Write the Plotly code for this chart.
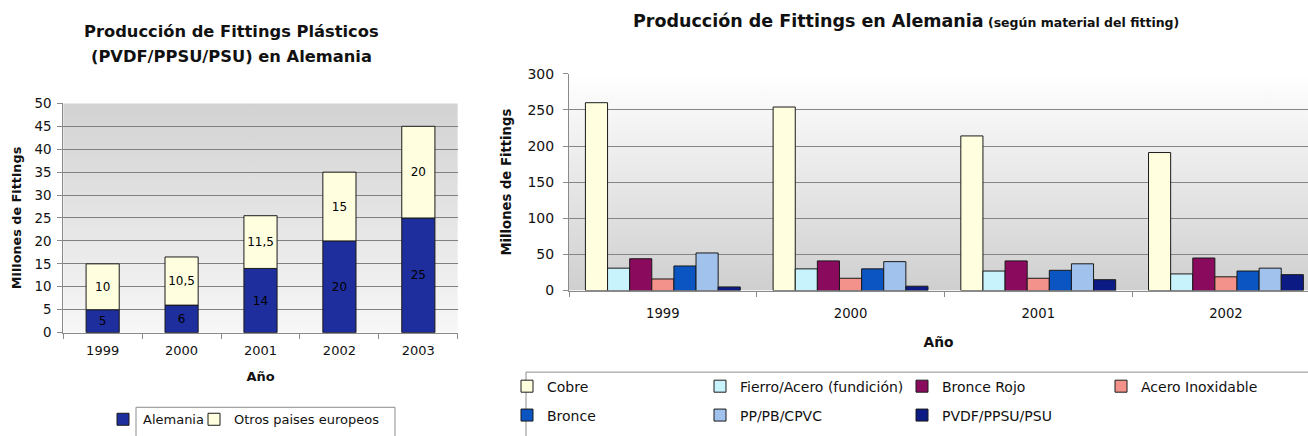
import base64
import plotly.graph_objects as go

W, H = 1308, 436
FONT = "DejaVu Sans"

# Left chart: plastic fittings (PVDF/PPSU/PSU), stacked by origin
years_left = ["1999", "2000", "2001", "2002", "2003"]
alemania = [5, 6, 14, 20, 25]
otros_europa = [10, 10.5, 11.5, 15, 20]

# Right chart: fittings produced in Germany by material
years_right = ["1999", "2000", "2001", "2002"]
cobre = [260, 254, 214, 191]
fierro_acero = [31, 30, 27, 23]
bronce_rojo = [44, 41, 41, 45]
acero_inox = [16, 17, 17, 19]
bronce = [34, 30, 28, 27]
pp_pb_cpvc = [52, 40, 37, 31]
pvdf_ppsu_psu = [5, 6, 15, 22]

right_series = [
    ("Cobre", cobre, "#FFFFE0"),
    ("Fierro/Acero (fundición)", fierro_acero, "#C8F2FC"),
    ("Bronce Rojo", bronce_rojo, "#8A0A5E"),
    ("Acero Inoxidable", acero_inox, "#F2928A"),
    ("Bronce", bronce, "#0A55C2"),
    ("PP/PB/CPVC", pp_pb_cpvc, "#A2C2EE"),
    ("PVDF/PPSU/PSU", pvdf_ppsu_psu, "#0C1A84"),
]


def fx(px):
    return px / W


def fy(py):
    return 1 - py / H


def fmt(v):
    return f"{v:g}".replace(".", ",")


def gradient_uri(top, bottom):
    svg = (
        '<svg xmlns="http://www.w3.org/2000/svg" width="10" height="100" '
        'viewBox="0 0 10 100" preserveAspectRatio="none">'
        '<defs><linearGradient id="g" x1="0" y1="0" x2="0" y2="1">'
        f'<stop offset="0" stop-color="{top}"/>'
        f'<stop offset="1" stop-color="{bottom}"/>'
        '</linearGradient></defs>'
        '<rect width="10" height="100" fill="url(#g)"/></svg>'
    )
    return "data:image/svg+xml;base64," + base64.b64encode(svg.encode()).decode()


# plot areas in pixels
L_X0, L_X1, L_YT, L_YB = 63.2, 457.8, 99.0, 337.0
R_X0, R_X1, R_YT, R_YB = 569.0, 1308.0, 68.3, 293.3
R_CAT = 187.7  # width of one year slot on the right chart

fig = go.Figure()

line = dict(color="#1a1a1a", width=1)

# left chart: stacked bars (second segment starts on top of the first)
fig.add_trace(go.Bar(
    x=years_left, y=alemania, name="Alemania",
    marker=dict(color="#1E2E9C", line=line),
    width=0.42, offset=-0.21,
    text=[fmt(v) for v in alemania], textposition="inside",
    insidetextanchor="middle", textangle=0,
    textfont=dict(family=FONT, size=12, color="#000000"),
    xaxis="x", yaxis="y", legend="legend", hoverinfo="skip",
))
fig.add_trace(go.Bar(
    x=years_left, y=otros_europa, base=alemania, name="Otros paises europeos",
    marker=dict(color="#FFFFE0", line=line),
    width=0.42, offset=-0.21,
    text=[fmt(v) for v in otros_europa], textposition="inside",
    insidetextanchor="middle", textangle=0,
    textfont=dict(family=FONT, size=12, color="#000000"),
    xaxis="x", yaxis="y", legend="legend2", hoverinfo="skip",
))

# right chart: grouped bars, one legend box per entry
right_legend_pos = [
    (547, 393), (740, 393), (942, 393), (1141, 393),
    (547, 423), (740, 423), (942, 423),
]
for i, (name, vals, col) in enumerate(right_series):
    fig.add_trace(go.Bar(
        x=years_right, y=vals, name=name,
        marker=dict(color=col, line=line),
        xaxis="x2", yaxis="y2", legend=f"legend{i + 3}", hoverinfo="skip",
    ))


def legend_at(text_x, y_center, size):
    return dict(
        x=fx(text_x - 40), y=fy(y_center), xanchor="left", yanchor="middle",
        orientation="v", bgcolor="rgba(0,0,0,0)", borderwidth=0,
        font=dict(family=FONT, size=size, color="#111111"),
        itemclick=False, itemdoubleclick=False,
    )


legends = {
    "legend": legend_at(143, 427, 13),
    "legend2": legend_at(234, 427, 13),
}
for i, (tx, ty) in enumerate(right_legend_pos):
    legends[f"legend{i + 3}"] = legend_at(tx, ty, 14)

axis_common = dict(
    showline=True, linecolor="#8a8a8a", linewidth=1,
    ticks="outside", ticklen=5, tickcolor="#8a8a8a",
    zeroline=False,
)

fig.update_layout(
    width=W, height=H,
    margin=dict(l=0, r=0, t=0, b=0),
    paper_bgcolor="#ffffff",
    plot_bgcolor="rgba(0,0,0,0)",
    barmode="group", bargap=0.175, bargroupgap=0,
    showlegend=True,
    font=dict(family=FONT, color="#111111"),
    xaxis=dict(
        **axis_common, domain=[fx(L_X0), fx(L_X1)], anchor="y",
        type="category", range=[-0.5, 4.5], tickson="boundaries",
        showgrid=False, ticklabelstandoff=6,
        tickfont=dict(family=FONT, size=13, color="#111111"),
        title=dict(text="Año", standoff=14,
                   font=dict(family=FONT, size=13, weight="bold", color="#111111")),
    ),
    yaxis=dict(
        **axis_common, domain=[fy(L_YB), fy(L_YT)], anchor="x",
        range=[0, 50], dtick=5, showgrid=True, gridcolor="#808080", gridwidth=1,
        ticklabelstandoff=3,
        tickfont=dict(family=FONT, size=13.4, color="#111111"),
        title=dict(text="Millones de Fittings", standoff=9,
                   font=dict(family=FONT, size=12.8, weight="bold", color="#111111")),
    ),
    xaxis2=dict(
        **axis_common, domain=[fx(R_X0), fx(R_X1)], anchor="y2",
        type="category", range=[-0.5, -0.5 + (R_X1 - R_X0) / R_CAT],
        tickson="boundaries", showgrid=False, ticklabelstandoff=11,
        tickfont=dict(family=FONT, size=13.2, color="#111111"),
        title=dict(text="Año", standoff=16,
                   font=dict(family=FONT, size=13.8, weight="bold", color="#111111")),
    ),
    yaxis2=dict(
        **axis_common, domain=[fy(R_YB), fy(R_YT)], anchor="x2",
        range=[0, 300], dtick=50, showgrid=True, gridcolor="#858585", gridwidth=1,
        ticklabelstandoff=6,
        tickfont=dict(family=FONT, size=14, color="#111111"),
        title=dict(text="Millones de Fittings", standoff=12,
                   font=dict(family=FONT, size=13.2, weight="bold", color="#111111")),
    ),
    images=[
        dict(source=gradient_uri("#d2d2d2", "#f7f7f7"), xref="paper", yref="paper",
             x=fx(L_X0), y=fy(L_YT), sizex=fx(L_X1) - fx(L_X0),
             sizey=fy(L_YT) - fy(L_YB), xanchor="left", yanchor="top",
             sizing="stretch", layer="below"),
        dict(source=gradient_uri("#ffffff", "#cfcfcf"), xref="paper", yref="paper",
             x=fx(R_X0), y=fy(R_YT), sizex=fx(R_X1) - fx(R_X0),
             sizey=fy(R_YT) - fy(R_YB), xanchor="left", yanchor="top",
             sizing="stretch", layer="below"),
    ],
    shapes=[
        # legend frames
        dict(type="rect", xref="paper", yref="paper",
             x0=fx(136), x1=fx(395), y0=fy(446), y1=fy(414.5),
             line=dict(color="#8c8c8c", width=1), fillcolor="rgba(0,0,0,0)",
             layer="below"),
        dict(type="rect", xref="paper", yref="paper",
             x0=fx(526), x1=fx(1330), y0=fy(446), y1=fy(378),
             line=dict(color="#8c8c8c", width=1), fillcolor="rgba(0,0,0,0)",
             layer="below"),
    ],
    annotations=[
        dict(text="<b>Producción de Fittings Plásticos</b>", xref="paper", yref="paper",
             x=fx(231), y=fy(24), xanchor="center", yanchor="middle", showarrow=False,
             font=dict(family=FONT, size=16.3, color="#111111")),
        dict(text="<b>(PVDF/PPSU/PSU) en Alemania</b>", xref="paper", yref="paper",
             x=fx(231), y=fy(50), xanchor="center", yanchor="middle", showarrow=False,
             font=dict(family=FONT, size=16.3, color="#111111")),
        dict(text="<b>Producción de Fittings en Alemania</b>"
                  "<b><span style='font-size:12.5px'> (según material del fitting)</span></b>",
             xref="paper", yref="paper",
             x=fx(906), y=fy(14), xanchor="center", yanchor="middle", showarrow=False,
             font=dict(family=FONT, size=17.5, color="#111111")),
    ],
    **legends,
)

fig.write_html("out.html")
